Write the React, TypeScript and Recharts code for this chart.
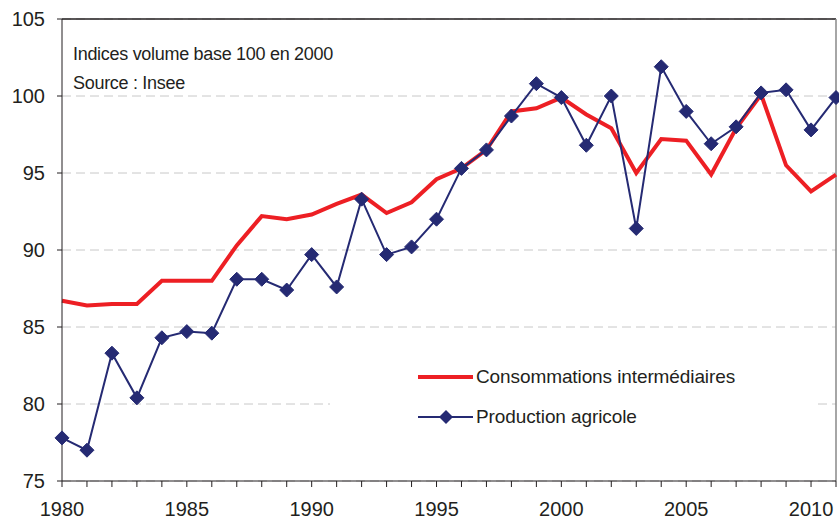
import { CartesianGrid, Legend, Line, LineChart, ReferenceLine, XAxis, YAxis } from "recharts";

const years = [
  1980, 1981, 1982, 1983, 1984, 1985, 1986, 1987, 1988, 1989, 1990, 1991, 1992, 1993, 1994, 1995,
  1996, 1997, 1998, 1999, 2000, 2001, 2002, 2003, 2004, 2005, 2006, 2007, 2008, 2009, 2010, 2011,
];
const consommations = [
  86.7, 86.4, 86.5, 86.5, 88.0, 88.0, 88.0, 90.3, 92.2, 92.0, 92.3, 93.0, 93.6, 92.4, 93.1, 94.6,
  95.3, 96.5, 99.0, 99.2, 99.9, 98.8, 97.9, 95.0, 97.2, 97.1, 94.9, 97.9, 100.1, 95.5, 93.8, 94.9,
];
const production = [
  77.8, 77.0, 83.3, 80.4, 84.3, 84.7, 84.6, 88.1, 88.1, 87.4, 89.7, 87.6, 93.3, 89.7, 90.2, 92.0,
  95.3, 96.5, 98.7, 100.8, 99.9, 96.8, 100.0, 91.4, 101.9, 99.0, 96.9, 98.0, 100.2, 100.4, 97.8, 99.9,
];
const labelYears = [1980, 1985, 1990, 1995, 2000, 2005, 2010];
const yTicks = [75, 80, 85, 90, 95, 100, 105];

const RED = "#ED1F24";
const BLUE = "#252A73";
const INK = "#231F20";
const FONT = '"Liberation Sans", Arial, sans-serif';

const data = years.map((year, i) => ({
  year,
  conso: consommations[i],
  prod: production[i],
}));

function Diamond(props: any) {
  const { cx, cy } = props;
  if (cx == null || cy == null) return null;
  const r = 7;
  return (
    <polygon
      points={`${cx},${cy - r} ${cx + r},${cy} ${cx},${cy + r} ${cx - r},${cy}`}
      fill={BLUE}
      stroke={BLUE}
      strokeWidth={1}
    />
  );
}

function YearTick(props: any) {
  const { x, y, payload } = props;
  if (!labelYears.includes(payload.value)) return null;
  return (
    <text x={x} y={y} dy="0.71em" textAnchor="middle" fontSize={20} fill={INK} fontFamily={FONT}>
      {payload.value}
    </text>
  );
}

function LegendBox(props: any) {
  const items = props.payload ?? [];
  return (
    <div style={{ position: "relative", width: 488, height: 100, background: "#fff" }}>
      {items.map((item: any, i: number) => {
        const isProd = item.dataKey === "prod";
        const cy = 37 + i * 40;
        return (
          <div key={item.value}>
            <svg
              width={60}
              height={20}
              style={{ position: "absolute", left: 86, top: cy - 10 }}
            >
              <line x1={2} y1={10} x2={57} y2={10} stroke={item.color} strokeWidth={isProd ? 2 : 4} />
              {isProd && <polygon points="30,3 37,10 30,17 23,10" fill={BLUE} />}
            </svg>
            <span
              style={{
                position: "absolute",
                left: 146,
                top: cy - 12,
                lineHeight: "24px",
                fontSize: 19,
                fontFamily: FONT,
                color: INK,
                whiteSpace: "nowrap",
                letterSpacing: -0.1,
              }}
            >
              {item.value}
            </span>
          </div>
        );
      })}
    </div>
  );
}

export default function App() {
  return (
    <div style={{ position: "relative", width: 839, height: 522, background: "#fff" }}>
      <style>{`body{margin:0;background:#fff}`}</style>
      <LineChart
        width={839}
        height={522}
        data={data}
        margin={{ top: 19, right: 3, bottom: 0, left: 0 }}
      >
        <CartesianGrid
          horizontal
          vertical={false}
          stroke="#C8C8C8"
          strokeDasharray="9 5"
        />
        <XAxis
          dataKey="year"
          type="number"
          domain={[1980, 2011]}
          ticks={years}
          interval={0}
          height={41}
          tickSize={6}
          tickMargin={15}
          stroke={INK}
          tick={<YearTick />}
        />
        <YAxis
          domain={[75, 105]}
          ticks={yTicks}
          width={62}
          tickSize={5}
          tickMargin={12}
          stroke={INK}
          tick={{ fontSize: 20, fill: INK, fontFamily: FONT }}
          interval={0}
        />
        <ReferenceLine y={105} stroke={INK} strokeWidth={1.5} />
        <ReferenceLine x={2011} stroke="#888888" strokeWidth={1.5} />
        <Line
          type="linear"
          dataKey="conso"
          name="Consommations intermédiaires"
          stroke={RED}
          strokeWidth={4}
          dot={false}
          activeDot={false}
          isAnimationActive={false}
        />
        <Line
          type="linear"
          dataKey="prod"
          name="Production agricole"
          stroke={BLUE}
          strokeWidth={2}
          dot={<Diamond />}
          activeDot={false}
          isAnimationActive={false}
        />
        <Legend
          layout="vertical"
          align="center"
          verticalAlign="middle"
          width={488}
          height={100}
          content={<LegendBox />}
          wrapperStyle={{ left: 330, top: 340, width: 488, height: 100 }}
        />
      </LineChart>
      <svg
        width={839}
        height={522}
        style={{ position: "absolute", left: 0, top: 0, pointerEvents: "none" }}
      >
        <text x={73} y={60} fontSize={18} fill={INK} fontFamily={FONT} letterSpacing={-0.3}>
          Indices volume base 100 en 2000
        </text>
        <text x={73} y={89} fontSize={18} fill={INK} fontFamily={FONT} letterSpacing={-0.3}>
          Source : Insee
        </text>
      </svg>
    </div>
  );
}
